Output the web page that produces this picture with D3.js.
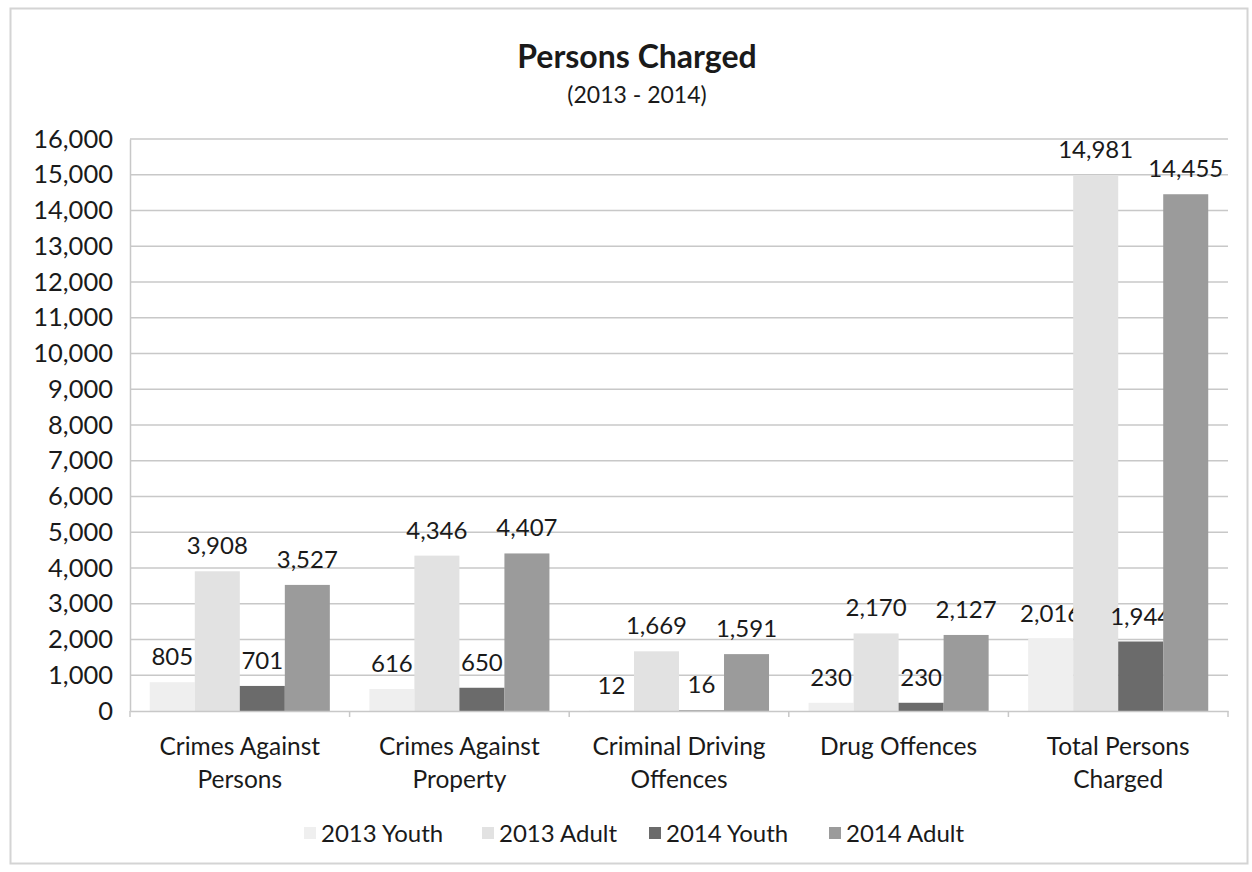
<!DOCTYPE html>
<html><head><meta charset="utf-8">
<script src="https://cdn.jsdelivr.net/npm/d3@7"></script>
<style>
html,body{margin:0;padding:0;background:#fff;}
svg text{font-family:Lato,"Open Sans",sans-serif;fill:#1a1a1a;}
</style></head>
<body>
<svg id="chart" width="1252" height="872"></svg>
<script>
const categories = [["Crimes Against","Persons"],["Crimes Against","Property"],["Criminal Driving","Offences"],["Drug Offences"],["Total Persons","Charged"]];
const seriesNames = ["2013 Youth","2013 Adult","2014 Youth","2014 Adult"];
const youth2013 = [805, 616, 12, 230, 2016];
const adult2013 = [3908, 4346, 1669, 2170, 14981];
const youth2014 = [701, 650, 16, 230, 1944];
const adult2014 = [3527, 4407, 1591, 2127, 14455];
const yTicks = [0,1000,2000,3000,4000,5000,6000,7000,8000,9000,10000,11000,12000,13000,14000,15000,16000];
const colors = ["#efefef","#e2e2e2","#6b6b6b","#9b9b9b"];

const series = [youth2013, adult2013, youth2014, adult2014];
const svg = d3.select("#chart");
const m = {left:130, right:1228, top:139, bottom:711};

svg.append("rect").attr("x",10.5).attr("y",8.5).attr("width",1237).attr("height",855)
  .attr("fill","#fff").attr("stroke","#d4d4d4").attr("stroke-width",2);

const x = d3.scaleBand().domain(d3.range(categories.length)).range([m.left, m.right])
  .paddingInner(0.18).paddingOuter(0.09);
const xCat = d3.scaleBand().domain(d3.range(categories.length)).range([m.left, m.right]);
const xs = d3.scaleBand().domain(d3.range(series.length)).range([0, x.bandwidth()]);
const y = d3.scaleLinear().domain([0,16000]).range([m.bottom, m.top]);

// gridlines
svg.append("g").selectAll("line").data(yTicks.slice(1)).join("line")
  .attr("x1",m.left).attr("x2",m.right)
  .attr("y1",d=>y(d)).attr("y2",d=>y(d))
  .attr("stroke","#c8c8c8").attr("stroke-width",1.5);

// y axis
const yAxis = d3.axisLeft(y).tickValues(yTicks).tickFormat(d3.format(",")).tickSize(0).tickPadding(17);
const ga = svg.append("g").attr("transform",`translate(${m.left},0)`).call(yAxis);
ga.select(".domain").attr("stroke","#c8c8c8").attr("stroke-width",1.5);
ga.selectAll("text").style("font-size","25.5px").attr("fill","#1a1a1a");

// bars
const groups = svg.append("g").selectAll("g").data(series).join("g").attr("fill",(d,i)=>colors[i]);
groups.selectAll("rect").data((d,si)=>d.map((v,ci)=>({v,ci,si}))).join("rect")
  .attr("x",d=>x(d.ci)+xs(d.si)).attr("width",xs.bandwidth())
  .attr("y",d=>y(d.v)).attr("height",d=>y(0)-y(d.v));

// x axis baseline and ticks
const xAxis = d3.axisBottom(xCat).tickSize(0).tickFormat("");
const gx = svg.append("g").attr("transform",`translate(0,${m.bottom})`).call(xAxis);
gx.select(".domain").attr("stroke","#c8c8c8").attr("stroke-width",1.5);
svg.append("g").selectAll("line").data(d3.range(categories.length+1)).join("line")
  .attr("x1",i=>m.left+i*xCat.step()).attr("x2",i=>m.left+i*xCat.step())
  .attr("y1",m.bottom).attr("y2",m.bottom+6).attr("stroke","#c8c8c8").attr("stroke-width",1.5);

// category labels
const cl = svg.append("g").selectAll("text").data(categories).join("text")
  .attr("x",(d,i)=>xCat(i)+xCat.bandwidth()/2).attr("y",755)
  .attr("text-anchor","middle").style("font-size","24.5px");
cl.selectAll("tspan").data(d=>d).join("tspan")
  .attr("x",function(){return this.parentNode.getAttribute("x");})
  .attr("dy",(d,i)=>i===0?0:33).text(d=>d);

// data labels
groups.each(function(d,si){
  d3.select(this).selectAll("text").data(d.map((v,ci)=>({v,ci,si}))).join("text")
    .attr("x",e=>x(e.ci)+xs(e.si)+xs.bandwidth()/2)
    .attr("y",e=>y(e.v)-17)
    .attr("text-anchor","middle").style("font-size","24px").attr("fill","#1a1a1a")
    .text(e=>d3.format(",")(e.v));
});

// title
svg.append("text").attr("x",637).attr("y",68).attr("text-anchor","middle")
  .style("font-size","32px").style("font-weight","bold").attr("fill","#2a2a2a").text("Persons Charged");
svg.append("text").attr("x",637).attr("y",103).attr("text-anchor","middle")
  .style("font-size","23px").attr("fill","#2a2a2a").text("(2013 - 2014)");

// legend
const legX = [304, 482, 649, 829];
const lg = svg.append("g").selectAll("g").data(seriesNames).join("g")
  .attr("transform",(d,i)=>`translate(${legX[i]},833)`);
lg.append("rect").attr("x",0).attr("y",-6).attr("width",12).attr("height",12).attr("fill",(d,i)=>colors[i]);
lg.append("text").attr("x",17).attr("y",9).style("font-size","24px").text(d=>d);
</script>
</body></html>
